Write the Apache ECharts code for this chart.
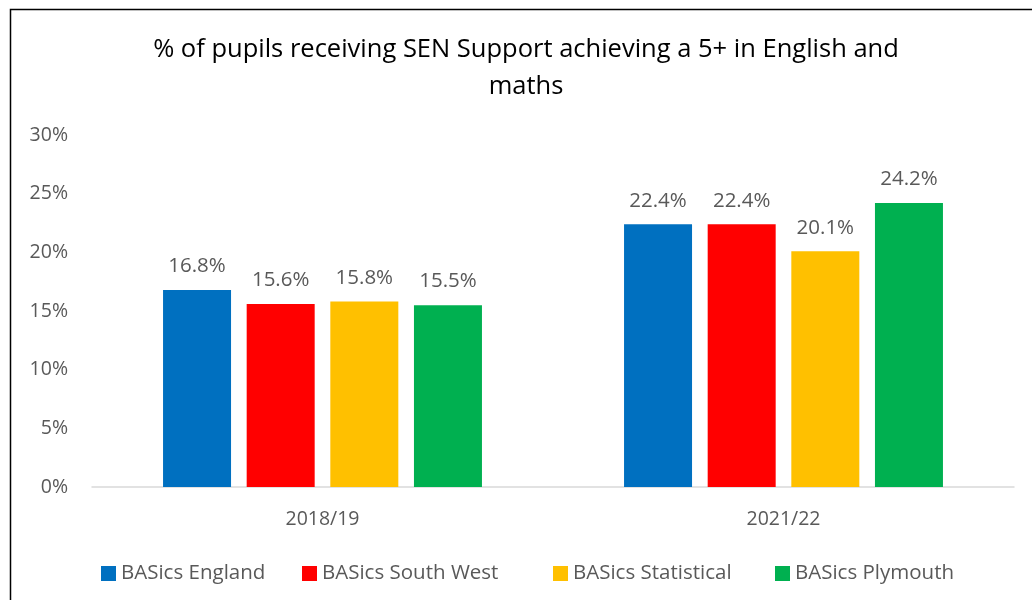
<!DOCTYPE html>
<html>
<head>
<meta charset="utf-8">
<script src="https://cdn.jsdelivr.net/npm/echarts@6/dist/echarts.min.js"></script>
<style>
  html, body { margin: 0; padding: 0; background: #fff; }
  #chart { width: 1032px; height: 600px; }
</style>
</head>
<body>
<div id="chart"></div>
<script>
// School years on the category axis
const years = ['2018/19', '2021/22'];

// % of SEN Support pupils achieving grade 5+ in English and maths
const basicsEngland = [16.8, 22.4];
const basicsSouthWest = [15.6, 22.4];
const basicsStatistical = [15.8, 20.1];
const basicsPlymouth = [15.5, 24.2];

const seriesNames = ['BASics England', 'BASics South West', 'BASics Statistical', 'BASics Plymouth'];
const seriesColors = ['#0070C0', '#FF0000', '#FFC000', '#00B050'];
const seriesValues = [basicsEngland, basicsSouthWest, basicsStatistical, basicsPlymouth];

const FONT = '"Open Sans", "Noto Sans", sans-serif';
const TEXT = '#595959';

// one legend entry per series, spaced along the bottom row
const legendLeft = [96, 297, 548, 770];

const chart = echarts.init(document.getElementById('chart'), null, { renderer: 'canvas' });

chart.setOption({
  animation: false,
  backgroundColor: '#ffffff',
  textStyle: { fontFamily: FONT },
  graphic: [{
    type: 'rect',
    shape: { x: 10.5, y: 9.5, width: 1200, height: 800 },
    style: { fill: 'none', stroke: '#000', lineWidth: 1.5 },
    silent: true
  }],
  title: {
    text: '% of pupils receiving SEN Support achieving a 5+ in English and\nmaths',
    left: 521,
    top: 26,
    textAlign: 'center',
    textStyle: {
      fontFamily: FONT,
      fontSize: 25.5,
      fontWeight: 'normal',
      color: '#000',
      lineHeight: 37
    }
  },
  legend: seriesNames.map((name, i) => ({
    data: [name],
    left: legendLeft[i],
    top: 558,
    itemWidth: 15,
    itemHeight: 15,
    icon: 'rect',
    selectedMode: false,
    textStyle: { fontFamily: FONT, fontSize: 20.5, color: TEXT }
  })),
  grid: {
    left: 92,
    right: 18,
    top: 135,
    bottom: 113,
    containLabel: false
  },
  xAxis: {
    type: 'category',
    data: years,
    axisLine: { lineStyle: { color: '#D9D9D9', width: 1.5 } },
    axisTick: { show: false },
    axisLabel: { fontFamily: FONT, fontSize: 19.5, color: TEXT, margin: 22 }
  },
  yAxis: {
    type: 'value',
    min: 0,
    max: 30,
    interval: 5,
    splitLine: { show: false },
    axisLine: { show: false },
    axisTick: { show: false },
    axisLabel: {
      fontFamily: FONT,
      fontSize: 19.5,
      color: TEXT,
      margin: 24,
      formatter: v => v + '%'
    }
  },
  series: seriesNames.map((name, i) => ({
    name,
    type: 'bar',
    data: seriesValues[i],
    barWidth: 68,
    barGap: '23%',
    itemStyle: { color: seriesColors[i] },
    label: {
      show: true,
      position: 'top',
      distance: 13,
      fontFamily: FONT,
      fontSize: 20.5,
      color: TEXT,
      formatter: p => p.value.toFixed(1) + '%'
    }
  }))
});
</script>
</body>
</html>
